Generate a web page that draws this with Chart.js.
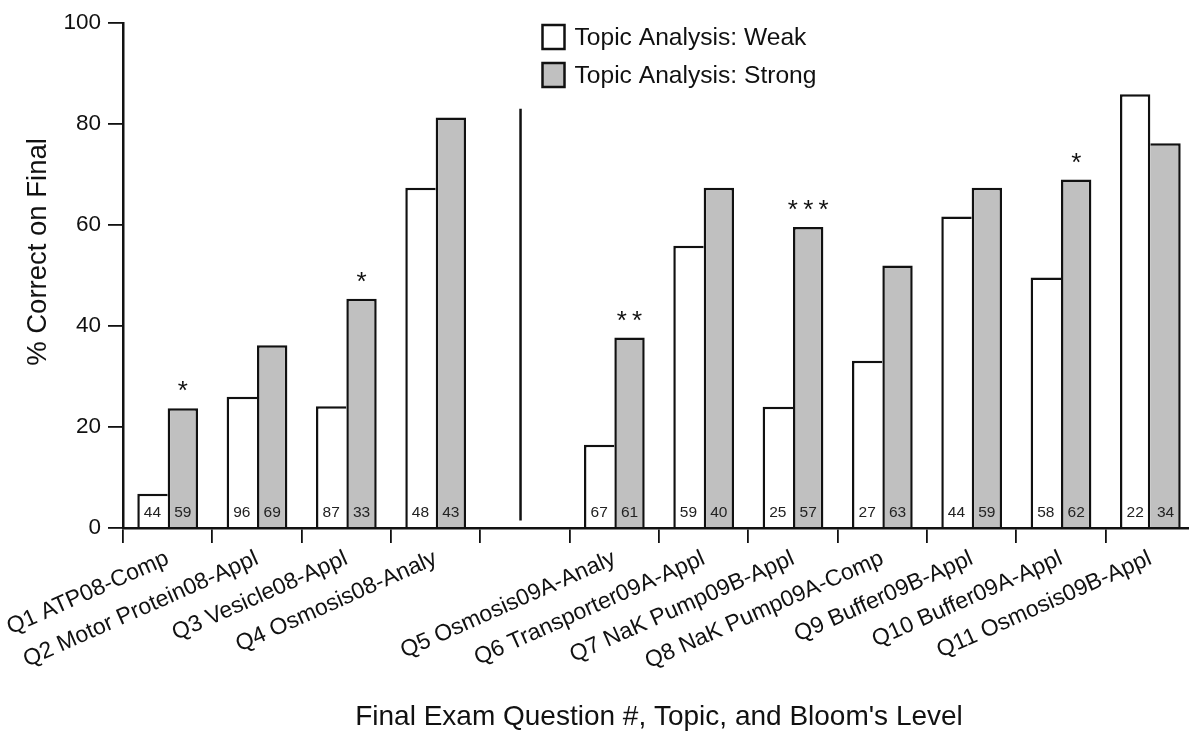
<!DOCTYPE html>
<html>
<head>
<meta charset="utf-8">
<script src="https://cdn.jsdelivr.net/npm/chart.js@4.4.1/dist/chart.umd.min.js"></script>
<style>
  html, body { margin: 0; padding: 0; background: #fff; overflow: hidden; }
  #wrap { width: 1189px; height: 748px; overflow: hidden; }
  #c { display: block; }
</style>
</head>
<body>
<div id="wrap"><canvas id="c" width="1195" height="748"></canvas></div>
<script>
// Exam questions (an empty slot separates the 2008 and 2009 items)
const categories = [
  'Q1 ATP08-Comp', 'Q2 Motor Protein08-Appl', 'Q3 Vesicle08-Appl', 'Q4 Osmosis08-Analy',
  '',
  'Q5 Osmosis09A-Analy', 'Q6 Transporter09A-Appl', 'Q7 NaK Pump09B-Appl', 'Q8 NaK Pump09A-Comp',
  'Q9 Buffer09B-Appl', 'Q10 Buffer09A-Appl', 'Q11 Osmosis09B-Appl'
];
const seriesLabels = ['Topic Analysis: Weak', 'Topic Analysis: Strong'];

// % correct on the final
const weakPct   = [6.8, 26.0, 24.1, 67.4, null, 16.5, 55.9, 24.0, 33.1, 61.7, 49.6, 85.9];
const strongPct = [23.7, 36.2, 45.4, 81.3, null, 37.7, 67.4, 59.6, 52.0, 67.4, 69.0, 76.2];

// number of students in each group
const weakN   = [44, 96, 87, 48, null, 67, 59, 25, 27, 44, 58, 22];
const strongN = [59, 69, 33, 43, null, 61, 40, 57, 63, 59, 62, 34];

// significance markers above the "strong" bars
const significance = ['*', '', '*', '', '', '**', '', '***', '', '', '*', ''];

const yTicks = [0, 20, 40, 60, 80, 100];
const yTitle = '% Correct on Final';
const xTitle = "Final Exam Question #, Topic, and Bloom's Level";

const FONT = '"Liberation Sans", Arial, Helvetica, sans-serif';
const INK = '#111';
const BORDER = 2.5;

// the taller bar of a pair keeps the shared edge so it is drawn once
function borderFor(own, other, side) {
  return (ctx) => {
    const i = ctx.dataIndex;
    const a = own[i], b = other[i];
    const shared = (a !== null && b !== null && a < b) ? 0 : BORDER;
    return side === 'right'
      ? { top: BORDER, left: BORDER, right: shared, bottom: 0 }
      : { top: BORDER, left: shared, right: BORDER, bottom: 0 };
  };
}

const annotations = {
  id: 'annotations',
  afterDatasetsDraw(chart) {
    const { ctx, chartArea, scales } = chart;
    const x = scales.x, y = scales.y;
    const base = y.getPixelForValue(0);
    ctx.save();

    // group sizes near the foot of each bar
    ctx.font = '15.5px ' + FONT;
    ctx.fillStyle = '#222';
    ctx.textAlign = 'center';
    ctx.textBaseline = 'middle';
    [weakN, strongN].forEach((arr, d) => {
      chart.getDatasetMeta(d).data.forEach((bar, i) => {
        if (arr[i] === null) return;
        ctx.fillText(String(arr[i]), bar.x, base - 15);
      });
    });

    // significance stars
    ctx.font = '26px ' + FONT;
    ctx.fillStyle = INK;
    ctx.textBaseline = 'alphabetic';
    chart.getDatasetMeta(1).data.forEach((bar, i) => {
      if (!significance[i]) return;
      ctx.fillText(significance[i].split('').join('\u2009'), bar.x, bar.y - 9);
    });

    // divider between the two exam years
    const gapIdx = categories.indexOf('');
    const step = x.getPixelForValue(1) - x.getPixelForValue(0);
    const dx = x.getPixelForValue(gapIdx) - step * 0.05;
    ctx.strokeStyle = INK;
    ctx.lineWidth = 2.5;
    ctx.beginPath();
    ctx.moveTo(dx, y.getPixelForValue(83));
    ctx.lineTo(dx, y.getPixelForValue(1.5));
    ctx.stroke();

    // legend
    const fills = chart.data.datasets.map(ds => ds.backgroundColor);
    const lx = chartArea.left + 419.5;
    ctx.font = '24.6px ' + FONT;
    ctx.textAlign = 'left';
    ctx.textBaseline = 'middle';
    seriesLabels.forEach((lab, k) => {
      const top = 25 + k * 38;
      ctx.fillStyle = fills[k];
      ctx.fillRect(lx, top, 22, 24);
      ctx.lineWidth = 2.5;
      ctx.strokeStyle = INK;
      ctx.strokeRect(lx, top, 22, 24);
      ctx.fillStyle = INK;
      ctx.fillText(lab, lx + 32, top + 13);
    });

    // y-axis title
    ctx.translate(38, 252);
    ctx.rotate(-Math.PI / 2);
    ctx.font = '27.5px ' + FONT;
    ctx.textAlign = 'center';
    ctx.fillText(yTitle, 0, 0);

    ctx.restore();
  }
};

new Chart(document.getElementById('c'), {
  type: 'bar',
  data: {
    labels: categories,
    datasets: [
      {
        label: seriesLabels[0],
        data: weakPct,
        backgroundColor: '#ffffff',
        borderColor: INK,
        borderWidth: borderFor(weakPct, strongPct, 'right'),
        borderSkipped: false,
        categoryPercentage: 0.68,
        barPercentage: 1.0
      },
      {
        label: seriesLabels[1],
        data: strongPct,
        backgroundColor: '#c0c0c0',
        borderColor: INK,
        borderWidth: borderFor(strongPct, weakPct, 'left'),
        borderSkipped: false,
        categoryPercentage: 0.68,
        barPercentage: 1.0
      }
    ]
  },
  options: {
    responsive: false,
    animation: false,
    layout: { padding: { left: 0, right: 0, top: 23, bottom: 0 } },
    plugins: {
      legend: { display: false },
      tooltip: { enabled: false }
    },
    scales: {
      x: {
        offset: true,
        grid: {
          offset: true,
          drawOnChartArea: false,
          drawTicks: true,
          tickLength: 15,
          color: INK,
          lineWidth: 1.8
        },
        border: { display: true, color: INK, width: 2.5 },
        ticks: {
          autoSkip: false,
          minRotation: 24,
          maxRotation: 24,
          padding: 2,
          color: INK,
          font: { family: FONT, size: 23 }
        },
        title: {
          display: true,
          text: xTitle,
          color: INK,
          font: { family: FONT, size: 28 },
          padding: { top: 0, bottom: 14 }
        },
        afterFit(scale) { scale.height = 220; }
      },
      y: {
        min: 0,
        max: 100,
        afterBuildTicks(scale) { scale.ticks = yTicks.map(v => ({ value: v })); },
        grid: {
          drawOnChartArea: false,
          drawTicks: true,
          tickLength: 15,
          color: INK,
          lineWidth: 1.8
        },
        border: { display: true, color: INK, width: 2.5 },
        ticks: {
          padding: 7,
          color: INK,
          font: { family: FONT, size: 22.5 }
        },
        afterFit(scale) { scale.width = 123; }
      }
    }
  },
  plugins: [annotations]
});
</script>
</body>
</html>
